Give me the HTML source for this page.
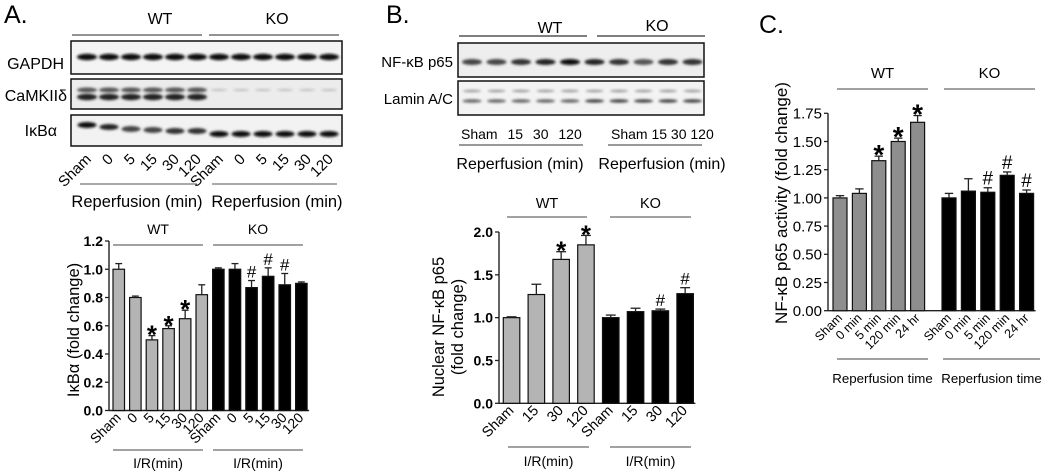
<!DOCTYPE html>
<html><head><meta charset="utf-8">
<style>
html,body{margin:0;padding:0;background:#fff;}
svg{display:block;font-family:"Liberation Sans",Arial,sans-serif;}
</style></head>
<body>
<svg id="fig" width="1050" height="473" viewBox="0 0 1050 473">
<defs>
<filter id="blur1" x="-50%" y="-100%" width="200%" height="300%"><feGaussianBlur stdDeviation="1.3"/></filter>
</defs>
<text x="4" y="23" font-size="25">A.</text>
<text x="386" y="23" font-size="25">B.</text>
<text x="759" y="33" font-size="25">C.</text>

<g id="blotA">
<text x="160" y="24" font-size="16" text-anchor="middle">WT</text>
<text x="277" y="24" font-size="16" text-anchor="middle">KO</text>
<line x1="72" y1="35" x2="202" y2="35" stroke="#555" stroke-width="1.2"/>
<line x1="209" y1="35" x2="339" y2="35" stroke="#555" stroke-width="1.2"/>
<text x="64" y="69" font-size="16" text-anchor="end">GAPDH</text>
<text x="67" y="101" font-size="16" text-anchor="end">CaMKIIδ</text>
<text x="57" y="136" font-size="16" text-anchor="end">IκBα</text>
<rect x="71" y="41" width="271" height="33" fill="#f4f4f4" stroke="#111" stroke-width="1.5"/>
<rect x="71" y="79" width="271" height="30" fill="#ececec" stroke="#111" stroke-width="1.5"/>
<rect x="71" y="115" width="271" height="31" fill="#f2f2f2" stroke="#111" stroke-width="1.5"/>
<g id="bandsA"></g>
<g id="laneLabA"></g>
<line x1="80" y1="184" x2="197" y2="184" stroke="#555" stroke-width="1"/>
<line x1="212" y1="184" x2="337" y2="184" stroke="#555" stroke-width="1"/>
<text x="137" y="207" font-size="16.5" text-anchor="middle">Reperfusion (min)</text>
<text x="277" y="207" font-size="16.5" text-anchor="middle">Reperfusion (min)</text>
</g>

<g id="blotB">
<text x="550" y="33" font-size="16" text-anchor="middle">WT</text>
<text x="657" y="31" font-size="16" text-anchor="middle">KO</text>
<line x1="459" y1="36" x2="587" y2="36" stroke="#333" stroke-width="1.2"/>
<line x1="597" y1="36" x2="705" y2="36" stroke="#333" stroke-width="1.2"/>
<text x="453" y="67" font-size="15" text-anchor="end">NF-κB p65</text>
<text x="453" y="104" font-size="15" text-anchor="end">Lamin A/C</text>
<rect x="458" y="43" width="246" height="34" fill="#eeeeee" stroke="#111" stroke-width="1.5"/>
<rect x="458" y="81" width="246" height="34" fill="#f3f3f3" stroke="#111" stroke-width="1.5"/>
<g id="bandsB"></g>
<text x="461" y="139" font-size="14" word-spacing="6">Sham   15   30  120</text>
<text x="611" y="139" font-size="14">Sham  15  30  120</text>
<line x1="459" y1="145" x2="583" y2="145" stroke="#333" stroke-width="1"/>
<line x1="608" y1="145" x2="702" y2="145" stroke="#333" stroke-width="1"/>
<text x="520" y="169" font-size="16" text-anchor="middle">Reperfusion (min)</text>
<text x="662" y="169" font-size="16" text-anchor="middle">Reperfusion (min)</text>
</g>

<g id="chartA"></g>
<g id="chartB"></g>
<g id="chartC"></g>
</svg>
<script>
// ---- Chart A data ----
const catsA = ["Sham","0","5","15","30","120","Sham","0","5","15","30","120"];
const valsA = [1.0,0.80,0.50,0.58,0.65,0.82,1.0,1.0,0.87,0.95,0.89,0.90];
const errA  = [0.04,0.01,0.03,0.02,0.06,0.07,0.01,0.04,0.05,0.06,0.08,0.01];
const markA = ["","","*","*","*","","","","#","#","#",""];
const ticksA = [0.0,0.2,0.4,0.6,0.8,1.0,1.2];
const tickLabA = ["0.0","0.2","0.4","0.6","0.8","1.0","1.2"];
// ---- Chart B data ----
const catsB = ["Sham","15","30","120","Sham","15","30","120"];
const valsB = [1.0,1.27,1.68,1.85,1.0,1.07,1.08,1.28];
const errB  = [0.01,0.12,0.09,0.11,0.03,0.04,0.02,0.07];
const markB = ["","","*","*","","","#","#"];
const ticksB = [0,0.5,1.0,1.5,2.0];
const tickLabB = ["0.0","0.5","1.0","1.5","2.0"];
// ---- Chart C data ----
const catsC = ["Sham","0 min","5 min","120 min","24 hr","Sham","0 min","5 min","120 min","24 hr"];
const valsC = [1.0,1.04,1.33,1.50,1.67,1.0,1.06,1.05,1.20,1.04];
const errC  = [0.02,0.04,0.04,0.03,0.06,0.04,0.11,0.04,0.03,0.03];
const markC = ["","","*","*","*","","","#","#","#"];
const ticksC = [0,0.25,0.5,0.75,1.0,1.25,1.5,1.75];
const tickLabC = ["0.00","0.25","0.50","0.75","1.00","1.25","1.50","1.75"];

const NS="http://www.w3.org/2000/svg";
function mk(parent,tag,attrs,text){const e=document.createElementNS(NS,tag);for(const k in attrs)e.setAttribute(k,attrs[k]);if(text!==undefined)e.textContent=text;parent.appendChild(e);return e;}

function drawChart(g,cats,vals,errs,marks,ticks,tickLabs,cfg){
  const y=v=>cfg.y0-(v-cfg.vmin)/(cfg.vmax-cfg.vmin)*(cfg.y0-cfg.y1);
  const x=i=>cfg.xs+i*cfg.pitch+(i>=cfg.split?cfg.gapOff:0);
  const ax=mk(g,'line',{x1:cfg.ax,y1:y(cfg.vmax),x2:cfg.ax,y2:cfg.y0,stroke:'#222','stroke-width':1.4});
  
  
  const xa=mk(g,'line',{x1:cfg.ax,y1:cfg.y0,x2:x(cats.length-1)+cfg.bw+2,y2:cfg.y0,stroke:'#222','stroke-width':1.4});
  
  
  ticks.forEach((t,i)=>{
    mk(g,'line',{x1:cfg.ax-4,y1:y(t),x2:cfg.ax,y2:y(t),stroke:'#222','stroke-width':1.3});
    const tl=mk(g,'text',{x:cfg.ax-6,y:y(t)+cfg.tf*0.36,'font-size':cfg.tf,'font-weight':cfg.tw,'text-anchor':'end'},tickLabs[i]);
    
    
  });
  cats.forEach((c,i)=>{
    const bx=x(i),top=y(vals[i]);
    const fill=i>=cfg.split?'#000':cfg.gray;
    const r=mk(g,'rect',{x:bx,y:top,width:cfg.bw,height:cfg.y0-top,fill:fill,stroke:'#111','stroke-width':1.2});
    
    
    const cx=bx+cfg.bw/2,et=y(vals[i]+errs[i]);
    mk(g,'line',{x1:cx,y1:top,x2:cx,y2:et,stroke:'#222','stroke-width':1.3});
    mk(g,'line',{x1:cx-cfg.bw*0.3,y1:et,x2:cx+cfg.bw*0.3,y2:et,stroke:'#222','stroke-width':1.3});
    if(marks[i]){
      const m=mk(g,'text',{x:cx,y:et-(marks[i]=='*'?-8:3),'font-size':marks[i]=='*'?cfg.mf+9:cfg.mf,'text-anchor':'middle','font-weight':marks[i]=='*'?'bold':'normal'},marks[i]);
      
      
    }
    const lx=cx+3,ly=cfg.y0+8;
    const xl=mk(g,'text',{x:lx,y:ly,'font-size':cfg.xf,'text-anchor':'end',transform:`rotate(-45 ${lx} ${ly})`},c);
    
    
  });
  const t=mk(g,'text',{'font-size':cfg.titleF,'text-anchor':'middle',transform:`translate(${cfg.titleX} ${cfg.titleY}) rotate(-90)`});
  
  
  cfg.title.forEach((s,k)=>{mk(t,'tspan',{x:0,dy:k==0?0:cfg.titleF*1.15},s);});
  cfg.groups.forEach(gr=>{
    mk(g,'line',{x1:gr.x1,y1:gr.ly,x2:gr.x2,y2:gr.ly,stroke:'#444','stroke-width':1.1});
    const gt=mk(g,'text',{x:(gr.x1+gr.x2)/2,y:gr.ty,'font-size':gr.f,'text-anchor':'middle'},gr.t);
    
    
  });
}

drawChart(document.getElementById('chartA'),catsA,valsA,errA,markA,ticksA,tickLabA,{
  y0:410.5,y1:241,vmin:0,vmax:1.2,ax:109,xs:113,pitch:16.6,split:6,gapOff:0,bw:11.5,gray:'#b4b4b4',
  tf:14,tw:'bold',mf:17,xf:14,titleF:16.5,titleX:79,titleY:330,title:['IκBα (fold change)'],
  groups:[{x1:113,x2:203,ly:245,ty:234,t:'WT',f:14},{x1:213,x2:303,ly:245,ty:234,t:'KO',f:14},
          {x1:113,x2:203,ly:450,ty:468,t:'I/R(min)',f:14},{x1:213,x2:303,ly:450,ty:468,t:'I/R(min)',f:14}]
});
drawChart(document.getElementById('chartB'),catsB,valsB,errB,markB,ticksB,tickLabB,{
  y0:403.3,y1:232,vmin:0,vmax:2.0,ax:499,xs:503.3,pitch:24.8,split:4,gapOff:0,bw:16.5,gray:'#b4b4b4',
  tf:14,tw:'bold',mf:17,xf:14.5,titleF:16.5,titleX:444,titleY:327,title:['Nuclear NF-κB p65','(fold change)'],
  groups:[{x1:507,x2:587,ly:217,ty:208,t:'WT',f:14.5},{x1:610,x2:691,ly:217,ty:208,t:'KO',f:14.5},
          {x1:508,x2:589,ly:447,ty:466,t:'I/R(min)',f:14},{x1:610,x2:691,ly:447,ty:466,t:'I/R(min)',f:14}]
});
drawChart(document.getElementById('chartC'),catsC,valsC,errC,markC,ticksC,tickLabC,{
  y0:310.7,y1:113.3,vmin:0,vmax:1.75,ax:828,xs:833,pitch:19.4,split:5,gapOff:12,bw:14,gray:'#8e8e8e',
  tf:15,tw:'normal',mf:19,xf:12.5,titleF:17,titleX:787,titleY:203,title:['NF-κB p65 activity (fold change)'],
  groups:[{x1:837,x2:928,ly:89,ty:78,t:'WT',f:15},{x1:944,x2:1035,ly:89,ty:78,t:'KO',f:15},
          {x1:837,x2:928,ly:359,ty:383,t:'Reperfusion time',f:13.3},{x1:943,x2:1040,ly:359,ty:383,t:'Reperfusion time',f:13.3}]
});

const bandsA=document.getElementById('bandsA');
for(let i=0;i<12;i++){
  const cx=87+i*22;
  mk(bandsA,'ellipse',{cx:cx,cy:57,rx:10,ry:3.2,fill:'#111',filter:'url(#blur1)'});
  if(i<6){mk(bandsA,'ellipse',{cx:cx,cy:90,rx:10,ry:2.5,fill:'#555',filter:'url(#blur1)'});
          mk(bandsA,'ellipse',{cx:cx,cy:97,rx:10,ry:3.2,fill:'#222',filter:'url(#blur1)'});}
  else mk(bandsA,'ellipse',{cx:cx,cy:90,rx:8,ry:1,fill:'#bbb',filter:'url(#blur1)'});
  const iy=[125,127,129,130,131,131][i]||134;
  const ic=i<6?['#111','#222','#444','#444','#333','#333'][i]:'#0a0a0a';
  mk(bandsA,'ellipse',{cx:cx,cy:iy,rx:9.5,ry:3,fill:ic,filter:'url(#blur1)'});
}
const labA=document.getElementById('laneLabA');
const laneA=["Sham","0","5","15","30","120","Sham","0","5","15","30","120"];
laneA.forEach((s,i)=>{const lx=92+i*22,ly=160;
  const t=mk(labA,'text',{x:lx,y:ly,'font-size':15,'text-anchor':'end',transform:`rotate(-45 ${lx} ${ly})`},s);
  
  
});
const bandsB=document.getElementById('bandsB');
for(let i=0;i<10;i++){
  const cx=472+i*24.5;
  const c=['#444','#444','#333','#222','#111','#222','#333','#555','#333','#333'][i];
  mk(bandsB,'ellipse',{cx:cx,cy:62,rx:10,ry:3,fill:c,filter:'url(#blur1)'});
  mk(bandsB,'ellipse',{cx:cx,cy:91,rx:9,ry:1.2,fill:'#999',filter:'url(#blur1)'});
  mk(bandsB,'ellipse',{cx:cx,cy:101,rx:9.5,ry:1.8,fill:i<5?'#666':'#444',filter:'url(#blur1)'});
}
</script>
</body></html>
